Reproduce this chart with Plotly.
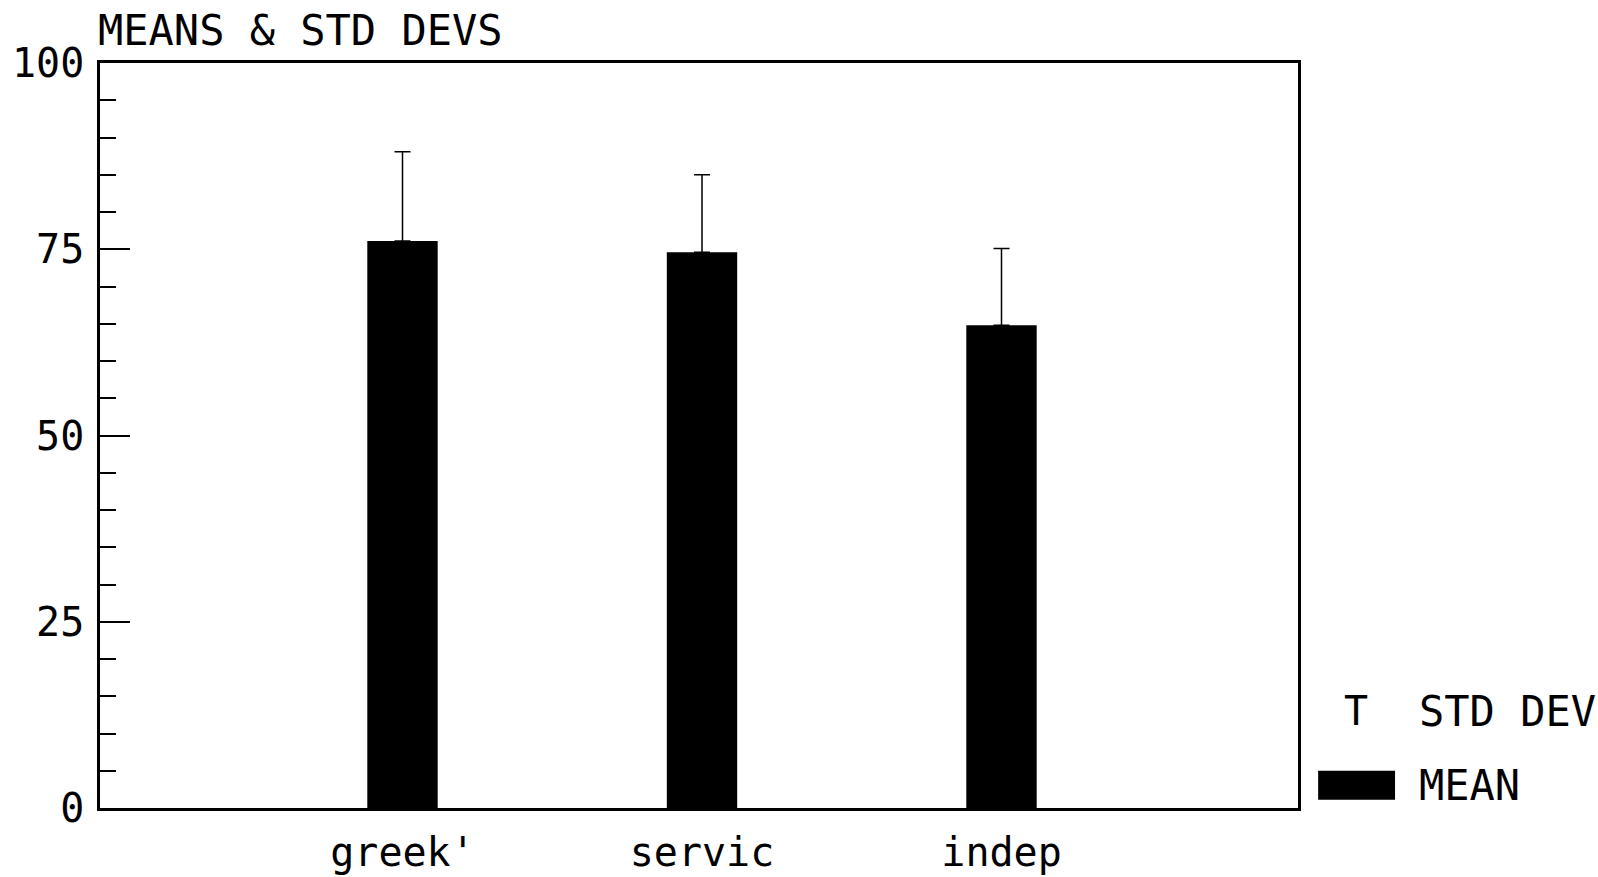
import plotly.graph_objects as go

# Group means and standard deviations
categories = ["greek'", "servic", "indep"]
means = [76.1, 74.6, 64.8]
std_devs = [12.0, 10.4, 10.3]

y_tick_values = [0, 25, 50, 75, 100]
y_tick_labels = ["0", "25", "50", "75", "100"]

FONT = "DejaVu Sans Mono"
INK = "black"

fig = go.Figure()

fig.add_trace(go.Bar(
    x=categories,
    y=means,
    width=0.235,
    marker=dict(color=INK, line=dict(width=0)),
    error_y=dict(
        type="data",
        symmetric=False,
        array=std_devs,
        arrayminus=[0] * len(std_devs),
        color=INK,
        thickness=1.5,
        width=8,
    ),
    showlegend=False,
))

fig.update_layout(
    width=1598,
    height=877,
    margin=dict(l=100, r=300, t=63, b=69, autoexpand=False),
    paper_bgcolor="white",
    plot_bgcolor="white",
    font=dict(family=FONT, color=INK, size=42),
    xaxis=dict(
        type="category",
        range=[-1.01, 2.99],
        automargin=False,
        showline=True,
        mirror=True,
        linecolor=INK,
        linewidth=2.5,
        showgrid=False,
        ticks="",
        tickfont=dict(family=FONT, size=40, color=INK),
        ticklabelstandoff=7,
        zeroline=False,
    ),
    yaxis=dict(
        range=[0, 100],
        automargin=False,
        showline=True,
        mirror=True,
        linecolor=INK,
        linewidth=2.5,
        showgrid=False,
        zeroline=False,
        tickmode="array",
        tickvals=y_tick_values,
        ticktext=y_tick_labels,
        ticks="inside",
        ticklen=30,
        tickwidth=1.5,
        tickcolor=INK,
        tickfont=dict(family=FONT, size=40, color=INK),
        ticklabelstandoff=5,
        minor=dict(ticks="inside", ticklen=16, tickwidth=1.5, tickcolor=INK, dtick=5),
    ),
)

# Title above the frame
fig.add_annotation(
    text="MEANS & STD DEVS", xref="paper", yref="paper",
    x=0, y=1, xanchor="left", yanchor="bottom", yshift=6, xshift=-4,
    showarrow=False, font=dict(family=FONT, size=42, color=INK),
)

# Legend drawn to the right of the frame
fig.add_annotation(
    text="T", xref="paper", yref="paper",
    x=1.0, y=0.13, xshift=58, xanchor="center", yanchor="middle",
    showarrow=False, font=dict(family=FONT, size=40, color=INK),
)
fig.add_annotation(
    text="STD DEVS", xref="paper", yref="paper",
    x=1.0, y=0.13, xshift=119, xanchor="left", yanchor="middle",
    showarrow=False, font=dict(family=FONT, size=42, color=INK),
)
fig.add_annotation(
    text="MEAN", xref="paper", yref="paper",
    x=1.0, y=0.03, xshift=119, xanchor="left", yanchor="middle",
    showarrow=False, font=dict(family=FONT, size=42, color=INK),
)
fig.add_shape(
    type="rect", xref="paper", yref="paper",
    x0=1.0168, x1=1.081, y0=0.011, y1=0.05,
    fillcolor=INK, line=dict(width=0),
)

fig.write_html("out.html")
